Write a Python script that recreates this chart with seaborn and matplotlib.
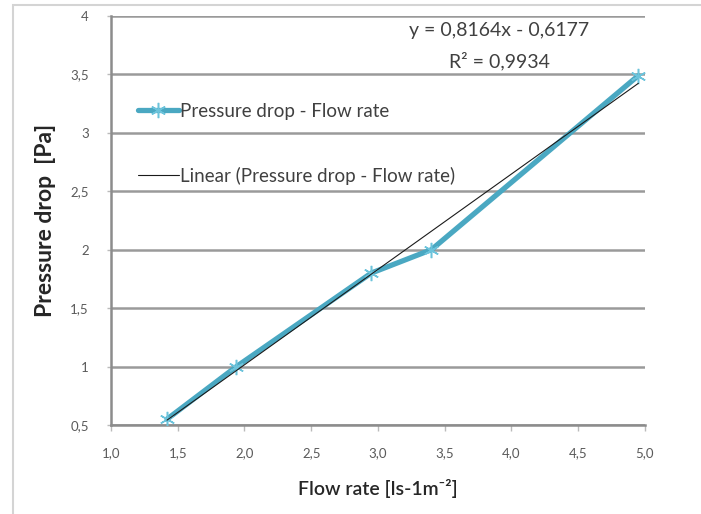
import matplotlib
matplotlib.use("Agg")
import matplotlib.pyplot as plt
import matplotlib.patches as mpatches
from matplotlib.ticker import FuncFormatter
import pandas as pd
import seaborn as sns

# Measured flow rate vs pressure drop
flow_rate = [1.42, 1.94, 2.95, 3.40, 4.95]
pressure_drop = [0.55, 1.00, 1.80, 2.00, 3.49]

# Linear trendline coefficients
slope = 0.8164
intercept = -0.6177
r_squared = 0.9934

x_ticks = [1.0, 1.5, 2.0, 2.5, 3.0, 3.5, 4.0, 4.5, 5.0]
y_ticks = [0.5, 1.0, 1.5, 2.0, 2.5, 3.0, 3.5, 4.0]

series_label = "Pressure drop - Flow rate"
trend_label = "Linear (Pressure drop - Flow rate)"

sns.set_theme(style="white")
plt.rcParams["font.family"] = ["Lato", "DejaVu Sans"]

df = pd.DataFrame({"flow": flow_rate, "dp": pressure_drop})
trend = pd.DataFrame({"flow": [min(flow_rate), max(flow_rate)]})
trend["dp"] = slope * trend["flow"] + intercept

fig = plt.figure(figsize=(7.01, 5.14), dpi=100)
ax = fig.add_axes([0.1583, 0.1732, 0.9201 - 0.1583, 0.9689 - 0.1732])

# outer chart frame (runs past the right and bottom edges)
fig.patches.append(mpatches.Rectangle((13 / 701, -0.2), 1.2, 1.2 - 5 / 514,
                                      transform=fig.transFigure, fill=False,
                                      edgecolor="#d4d4d4", linewidth=1.5))

sns.lineplot(data=df, x="flow", y="dp", ax=ax, color="#4aa8c2", linewidth=3.8,
             marker=(6, 2, 0), markersize=11, markeredgewidth=1.1,
             markeredgecolor="#6cc3db", label=series_label, zorder=3)
sns.lineplot(data=trend, x="flow", y="dp", ax=ax, color="#1a1a1a", linewidth=0.8,
             label=trend_label, zorder=4)

ax.set_xlim(1.0, 5.0)
ax.set_ylim(0.5, 4.0)
ax.set_xticks(x_ticks)
ax.set_yticks(y_ticks)
ax.xaxis.set_major_formatter(FuncFormatter(lambda v, p: f"{v:.1f}".replace(".", ",")))
ax.yaxis.set_major_formatter(FuncFormatter(lambda v, p: f"{v:g}".replace(".", ",")))

ax.yaxis.grid(True, color="#9a9a9a", linewidth=1.8)
ax.set_axisbelow(True)
for side in ("top", "right"):
    ax.spines[side].set_visible(False)
for side in ("left", "bottom"):
    ax.spines[side].set_color("#8c8c8c")
    ax.spines[side].set_linewidth(1.8)

ax.tick_params(axis="x", bottom=True, length=4, width=1, color="#bbbbbb",
               labelsize=9.5, labelcolor="#5a5a5a", pad=12)
ax.tick_params(axis="y", left=True, length=3, width=1, color="#bbbbbb",
               labelsize=9.5, labelcolor="#5a5a5a", pad=13)

ax.set_xlabel("Flow rate [ls-1m⁻²]", fontsize=14, color="#262626",
              fontweight="semibold", labelpad=14)
ax.set_ylabel("Pressure drop  [Pa]", fontsize=16.5, color="#262626",
              fontweight="bold", labelpad=10)

ax.text(0.727, 0.985, f"y = {slope:.4f}x - {abs(intercept):.4f}".replace(".", ","),
        transform=ax.transAxes, ha="center", va="top", fontsize=14, color="#404040")
ax.text(0.727, 0.912, f"R² = {r_squared:.4f}".replace(".", ","),
        transform=ax.transAxes, ha="center", va="top", fontsize=14, color="#404040")

leg = ax.legend(loc="upper left", bbox_to_anchor=(0.05, 0.788), frameon=False,
                fontsize=13.5, labelspacing=2.5, handlelength=2.2, handletextpad=0.05,
                borderaxespad=0, borderpad=0)
for t in leg.get_texts():
    t.set_color("#404040")

fig.savefig("out.png", dpi=100)
